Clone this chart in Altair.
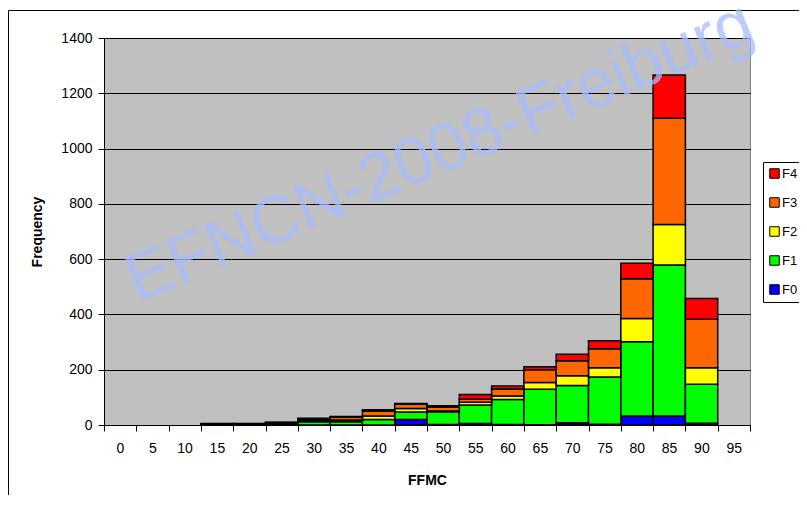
import altair as alt
import pandas as pd

# FFMC class (lower bound of 5-wide bins)
ffmc = list(range(0, 100, 5))
# Frequencies per fire class
f0 = [0, 0, 0, 0, 0, 0, 0, 0, 0, 20, 2, 5, 2, 1, 8, 3, 33, 33, 6, 0]
f1 = [0, 0, 0, 3, 3, 5, 12, 12, 20, 27, 46, 67, 90, 128, 135, 171, 268, 546, 141, 0]
f2 = [0, 0, 0, 1, 1, 2, 4, 6, 13, 13, 3, 10, 13, 25, 35, 33, 84, 146, 60, 0]
f3 = [0, 0, 0, 1, 1, 2, 6, 10, 18, 15, 14, 11, 25, 46, 54, 69, 144, 385, 176, 0]
f4 = [0, 0, 0, 0, 0, 1, 2, 3, 4, 3, 5, 17, 11, 11, 24, 29, 56, 156, 75, 0]

classes = ["F0", "F1", "F2", "F3", "F4"]
series = [f0, f1, f2, f3, f4]
legend_order = ["F4", "F3", "F2", "F1", "F0"]
legend_colors = ["#FF0000", "#FF6600", "#FFFF00", "#00FF00", "#0000FF"]
y_ticks = list(range(0, 1401, 200))
watermark = "EFNCN-2008-Freiburg"

rows = []
for rank, (cls, vals) in enumerate(zip(classes, series)):
    for x, v in zip(ffmc, vals):
        if v > 0:
            rows.append({"start": x, "end": x + 5, "cls": cls, "rank": rank, "count": v})
df = pd.DataFrame(rows)

FONT = "Liberation Sans"

bars = alt.Chart(df).transform_stack(
    stack="count",
    groupby=["start"],
    sort=[alt.SortField("rank", order="ascending")],
    as_=["y0", "y1"],
).mark_bar(stroke="black", strokeWidth=1.5).encode(
    x=alt.X(
        "start:Q",
        scale=alt.Scale(domain=[0, 100], nice=False, zero=False),
        axis=alt.Axis(
            values=ffmc + [100],
            labelExpr="datum.value >= 100 ? '' : datum.label",
            labelOffset=16,
            grid=False,
            tickSize=6,
            tickColor="black",
            domainColor="black",
            labelPadding=10,
            labelFlush=False,
            labelOverlap=False,
            title="FFMC",
            titlePadding=18,
        ),
    ),
    x2="end:Q",
    y=alt.Y(
        "y0:Q",
        scale=alt.Scale(domain=[0, 1400], nice=False),
        axis=alt.Axis(
            values=y_ticks,
            format="d",
            grid=True,
            gridColor="black",
            gridWidth=1,
            tickSize=6,
            tickColor="black",
            domainColor="black",
            labelPadding=6,
            title="Frequency",
            titlePadding=16,
        ),
    ),
    y2="y1:Q",
    color=alt.Color(
        "cls:N",
        scale=alt.Scale(domain=legend_order, range=legend_colors),
        legend=alt.Legend(
            orient="none",
            legendX=659,
            legendY=124,
            title=None,
            symbolType="square",
            symbolSize=90,
            symbolStrokeColor="black",
            symbolStrokeWidth=1,
            labelFontSize=13,
            labelFont=FONT,
            labelColor="black",
            labelOffset=1,
            rowPadding=14,
            padding=5,
            strokeColor="black",
            fillColor="white",
        ),
    ),
)

border = alt.Chart(pd.DataFrame({"a": [0]})).mark_rect(
    fill="white", fillOpacity=0, stroke="black", strokeWidth=1
).encode(
    x=alt.value(-95.5), x2=alt.value(800), y=alt.value(-27.5), y2=alt.value(500)
)

wm = alt.Chart(pd.DataFrame({"t": [watermark]})).mark_text(
    fontSize=67,
    font=FONT,
    angle=337,
    align="center",
    baseline="alphabetic",
    color="#a8bcff",
    opacity=0.75,
).encode(
    text="t:N", x=alt.value(344), y=alt.value(133)
)

chart = alt.layer(border, bars, wm).properties(
    width=646,
    height=387,
    autosize=alt.AutoSizeParams(type="none"),
    padding={"left": 96, "top": 30, "right": 49, "bottom": 70},
    background="white",
).configure_view(
    fill="#C0C0C0", stroke="#808080", strokeWidth=1
).configure_axis(
    labelFont=FONT,
    labelFontSize=14,
    labelColor="black",
    titleFont=FONT,
    titleFontSize=14,
    titleFontWeight="bold",
    titleColor="black",
)

chart.save("out.html", embed_options={"renderer": "svg", "actions": False})
